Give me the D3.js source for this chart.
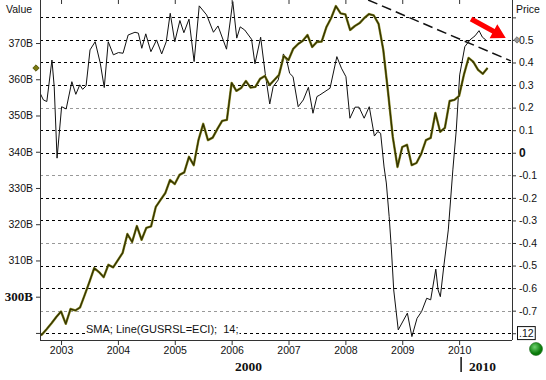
<!DOCTYPE html>
<html><head><meta charset="utf-8">
<script src="https://cdn.jsdelivr.net/npm/d3@7"></script>
<style>body{margin:0;background:#fff}svg{display:block}</style>
</head><body>
<script>
// ---- data ----
// SMA series (thick olive line, left "Value" axis, billions), monthly from Aug 2002
const smaStartYear = 2002, smaStartMonth = 8;
const smaValues = [288.9,289.6,291.1,292.7,294.4,
  295.9,292.5,296.6,296.2,297.0,300.5,304.1,307.9,306.8,305.4,308.8,308.1,
  310.1,312.1,317.3,315.1,319.5,315.7,319.0,319.4,324.8,326.7,328.6,332.2,
  331.1,333.6,334.3,338.6,336.3,343.2,347.7,343.2,343.9,346.3,348.5,348.8,
  359.0,356.8,357.6,359.5,357.7,357.9,360.1,360.9,358.4,359.8,361.2,366.4,
  365.3,368.4,369.7,370.6,372.2,368.9,370.3,370.4,374.4,376.9,380.2,378.2,
  377.9,373.6,374.7,375.5,376.9,378.0,377.6,375.3,368.1,356.5,344.1,335.8,
  341.3,341.9,336.3,336.9,339.4,343.2,343.8,350.7,345.5,346.6,354.0,354.3,
  355.4,361.2,365.9,364.8,362.6,361.5,363.1];
// Line series (thin black line, right "Price" axis)
const priceDates = [2002.63,2002.69,2002.75,2002.84,2002.88,2002.93,2003.01,2003.09,2003.19,2003.26,
  2003.33,2003.38,2003.44,2003.51,2003.60,2003.69,2003.76,2003.83,2003.92,2004.01,
  2004.09,2004.18,2004.30,2004.36,2004.42,2004.49,2004.58,2004.68,2004.77,2004.85,
  2004.92,2005.00,2005.09,2005.16,2005.25,2005.34,2005.43,2005.56,2005.68,2005.76,
  2005.91,2006.02,2006.09,2006.15,2006.23,2006.35,2006.41,2006.51,2006.59,2006.67,
  2006.73,2006.82,2006.91,2006.97,2007.02,2007.08,2007.17,2007.26,2007.35,2007.43,
  2007.50,2007.55,2007.73,2007.85,2007.93,2008.01,2008.08,2008.17,2008.24,2008.33,
  2008.42,2008.51,2008.57,2008.62,2008.68,2008.72,2008.77,2008.81,2008.85,2008.93,
  2009.09,2009.17,2009.26,2009.34,2009.43,2009.50,2009.59,2009.63,2009.67,2009.73,
  2009.81,2009.85,2009.89,2009.95,2010.01,2010.10,2010.19,2010.28,2010.35,2010.41,2010.47];
const priceValues = [0.265,0.234,0.227,0.411,0.293,-0.024,0.204,0.194,0.315,0.259,
  0.301,0.281,0.296,0.456,0.492,0.397,0.289,0.492,0.434,0.444,
  0.441,0.522,0.534,0.530,0.463,0.527,0.448,0.500,0.438,0.492,
  0.618,0.492,0.586,0.532,0.592,0.404,0.651,0.611,0.534,0.562,
  0.459,0.670,0.508,0.558,0.544,0.503,0.394,0.512,0.352,0.216,
  0.293,0.323,0.438,0.408,0.352,0.337,0.204,0.234,0.290,0.175,
  0.249,0.256,0.286,0.426,0.375,0.337,0.153,0.202,0.202,0.153,
  0.204,0.074,0.094,0.086,-0.063,-0.134,-0.283,-0.431,-0.608,-0.785,
  -0.711,-0.815,-0.734,-0.704,-0.645,-0.652,-0.516,-0.608,-0.638,-0.505,
  -0.342,-0.209,-0.076,0.101,0.345,0.470,0.500,0.518,0.541,0.512,0.500];
const yearTicks = [2003,2004,2005,2006,2007,2008,2009,2010];
const valueTicks = [290,300,310,320,330,340,350,360,370];
const valueTickLabels = ["","300B","310B","320B","330B","340B","350B","360B","370B"];
const priceTicks = [0.6,0.5,0.4,0.3,0.2,0.1,0,-0.1,-0.2,-0.3,-0.4,-0.5,-0.6,-0.7,-0.8];
const priceTickLabels = ["","0.5","0.4","0.3","0.2","0.1","0","-0.1","-0.2","-0.3","-0.4","-0.5","-0.6","-0.7",".12"];
const grayGridTicks = [0.2,-0.1,-0.4,-0.7];
const trendDates = [2008.40,2010.91], trendPrices = [0.677,0.407];
const arrowDates = [2010.21,2010.82], arrowPrices = [0.593,0.509];
const legendText = "SMA; Line(GUSRSL=ECI);  14;";

// ---- chart ----
const W = 546, H = 380;
const L = 40, R = 512, T = 0, B = 340;
const svg = d3.select("body").append("svg").attr("width", W).attr("height", H);
const font = "'Liberation Sans', Arial, sans-serif";

const x = d3.scaleLinear().domain([2002.63, 2010.93]).range([L, R]);
const yV = d3.scaleLinear().domain([288.05, 381.87]).range([B, T]);
const yP = d3.scaleLinear().domain([-0.830, 0.677]).range([B, T]);

svg.append("defs").append("clipPath").attr("id","plot")
  .append("rect").attr("x",L).attr("y",T).attr("width",R-L).attr("height",B-T);

// gridlines
svg.append("g").selectAll("line").data(priceTicks).join("line")
  .attr("x1", L).attr("x2", R)
  .attr("y1", d => Math.round(yP(d)) + 0.5).attr("y2", d => Math.round(yP(d)) + 0.5)
  .attr("stroke", d => grayGridTicks.includes(d) ? "#999" : "#000")
  .attr("stroke-dasharray", "3,3").attr("stroke-width", 1);

// legend text with white background
const lg = svg.append("g");
const lt = lg.append("text").attr("x", 86).attr("y", 333)
  .attr("font-family", font).attr("font-size", 11).attr("fill", "#111")
  .style("white-space","pre").text(legendText);
const bb = lt.node().getBBox();
lg.insert("rect","text").attr("x", bb.x - 1).attr("y", bb.y).attr("width", bb.width + 2)
  .attr("height", bb.height).attr("fill", "#fff");

const plot = svg.append("g").attr("clip-path","url(#plot)");

// thin price line
const priceData = priceDates.map((d,i) => [d, priceValues[i]]);
plot.append("path").datum(priceData)
  .attr("d", d3.line().x(d => x(d[0])).y(d => yP(d[1])))
  .attr("fill","none").attr("stroke","#111").attr("stroke-width",1);

// thick SMA line
const smaData = smaValues.map((v,i) => {
  const m = smaStartMonth - 1 + i;
  return [smaStartYear + m / 12, v];
});
const smaLine = d3.line().x(d => x(d[0])).y(d => yV(d[1]));
plot.append("path").datum(smaData).attr("d", smaLine)
  .attr("fill","none").attr("stroke","#8c8c2a").attr("stroke-width",2.4)
  .attr("stroke-linejoin","round");
plot.append("path").datum(smaData).attr("d", smaLine)
  .attr("fill","none").attr("stroke","#333300").attr("stroke-width",1.3)
  .attr("stroke-linejoin","round");

// dashed trend line
svg.append("line")
  .attr("x1", x(trendDates[0])).attr("y1", yP(trendPrices[0]))
  .attr("x2", x(trendDates[1])).attr("y2", yP(trendPrices[1]))
  .attr("stroke","#111").attr("stroke-width",1.5).attr("stroke-dasharray","10,5");

// red arrow
(function(){
  const x0 = x(arrowDates[0]), y0 = yP(arrowPrices[0]);
  const x1 = x(arrowDates[1]), y1 = yP(arrowPrices[1]);
  const len = Math.hypot(x1-x0, y1-y0), ux = (x1-x0)/len, uy = (y1-y0)/len;
  const px = -uy, py = ux, hl = 14, hw = 8, sw = 2.6;
  const bx = x1 - hl*ux, by = y1 - hl*uy;
  const pts = [[x0+px*sw,y0+py*sw],[bx+px*sw,by+py*sw],[bx+px*hw,by+py*hw],[x1,y1],
    [bx-px*hw,by-py*hw],[bx-px*sw,by-py*sw],[x0-px*sw,y0-py*sw]];
  svg.append("polygon").attr("points", pts.map(p=>p.join(",")).join(" ")).attr("fill","#f00");
})();

// axes
const axisColor = "#333";
const gL = svg.append("g").attr("transform",`translate(${L},0)`)
  .call(d3.axisLeft(yV).tickValues(valueTicks).tickSize(4).tickPadding(3)
    .tickFormat((d,i) => valueTickLabels[i]));
gL.select(".domain").attr("d", `M0.5,${T}V${B}`);
const gR = svg.append("g").attr("transform",`translate(${R},0)`)
  .call(d3.axisRight(yP).tickValues(priceTicks).tickSize(4).tickPadding(3)
    .tickFormat((d,i) => priceTickLabels[i]));
gR.select(".domain").attr("d", `M0.5,${T}V${B}`);
const gB = svg.append("g").attr("transform",`translate(0,${B})`)
  .call(d3.axisBottom(x).tickValues(yearTicks).tickSize(5).tickPadding(2).tickFormat(d3.format("d")));
gB.select(".domain").attr("d", `M${L},0.5H${R}`);
const gT = svg.append("g").attr("transform",`translate(0,${T})`)
  .call(d3.axisBottom(x).tickValues(yearTicks).tickSize(4).tickFormat(""));
gT.select(".domain").remove();

[gL,gR,gB,gT].forEach(g => {
  g.selectAll(".domain").attr("stroke", axisColor);
  g.selectAll(".tick line").attr("stroke", axisColor);
  g.selectAll("text").attr("font-family", font).attr("font-size", 10.5).attr("fill","#111");
});
gL.selectAll(".tick text").filter((d,i) => valueTickLabels[i] === "300B")
  .attr("font-family","'Liberation Serif', 'Times New Roman', serif").attr("font-weight","bold").attr("font-size",13);
gR.selectAll(".tick text").filter(d => d === 0)
  .attr("font-weight","bold").attr("font-size",12);
// boxed label at the bottom of the right axis
gR.selectAll(".tick").filter(d => d === -0.8).each(function(){
  const t = d3.select(this).select("text");
  const b = t.node().getBBox();
  d3.select(this).insert("rect","text").attr("x", b.x - 1.5).attr("y", b.y - 0.5)
    .attr("width", b.width + 3).attr("height", b.height + 1)
    .attr("fill","#fff").attr("stroke","#111");
});

// axis titles
svg.append("text").attr("x", 6).attr("y", 13).attr("font-family", font).attr("font-size", 10.5).attr("fill","#111").text("Value");
svg.append("text").attr("x", 516).attr("y", 13).attr("font-family", font).attr("font-size", 10.5).attr("fill","#111").text("Price");

// era labels
const serif = "'Liberation Serif', 'Times New Roman', serif";
svg.append("text").attr("x", 235).attr("y", 371).attr("font-family", serif).attr("font-weight","bold")
  .attr("font-size", 13.5).attr("fill","#111").text("2000");
svg.append("line").attr("x1", x(2010)+2).attr("x2", x(2010)+2).attr("y1", 357).attr("y2", 372)
  .attr("stroke","#111").attr("stroke-width",1.5);
svg.append("text").attr("x", x(2010)+10).attr("y", 371).attr("font-family", serif).attr("font-weight","bold")
  .attr("font-size", 13.5).attr("fill","#111").text("2010");

// last-value markers
const diamond = d3.symbol().type(d3.symbolDiamond2).size(26);
svg.append("path").attr("d", diamond)
  .attr("transform", `translate(${L-4},${yV(smaValues[smaValues.length-1])})`)
  .attr("fill","#7a7a10").attr("stroke","#4a4a00").attr("stroke-width",0.8);
svg.append("path").attr("d", diamond)
  .attr("transform", `translate(${R+5},${yP(priceValues[priceValues.length-1])})`)
  .attr("fill","#999").attr("stroke","#666").attr("stroke-width",0.8);

// green status dot
const grad = svg.select("defs").append("radialGradient").attr("id","gdot").attr("cx","40%").attr("cy","35%");
grad.append("stop").attr("offset","0%").attr("stop-color","#6fd36f");
grad.append("stop").attr("offset","100%").attr("stop-color","#0a7a0a");
svg.append("circle").attr("cx", 536).attr("cy", 349).attr("r", 6.5).attr("fill","url(#gdot)").attr("stroke","#0a5a0a").attr("stroke-width",0.5);
</script>
</body></html>
